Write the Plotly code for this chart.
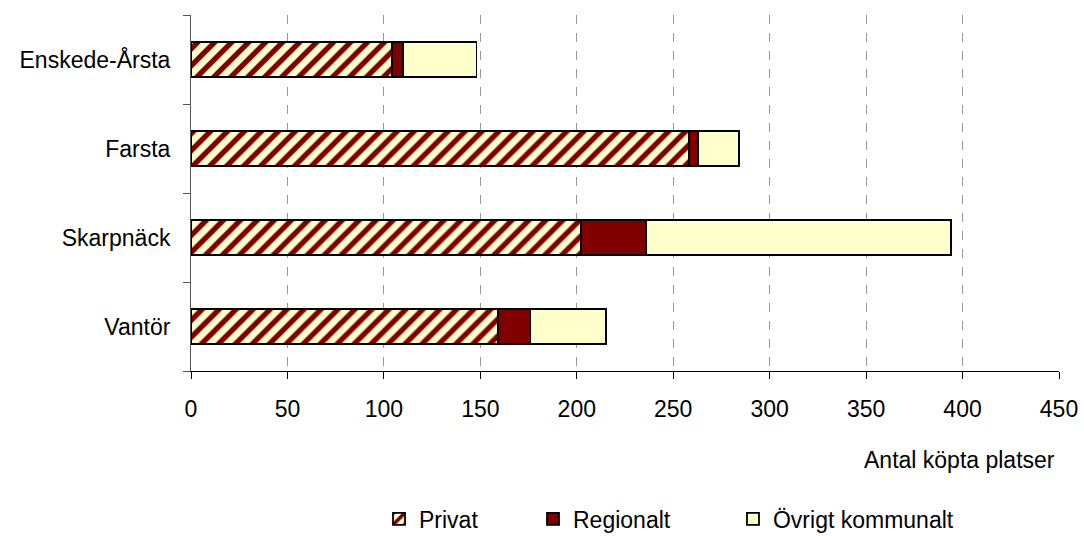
import plotly.graph_objects as go

# districts, listed top to bottom as in the chart
districts = ["Enskede-Årsta", "Farsta", "Skarpnäck", "Vantör"]
privat = [104, 258, 202, 159]
regionalt = [6, 5, 34, 17]
ovrigt = [38, 21, 158, 39]
x_ticks = [0, 50, 100, 150, 200, 250, 300, 350, 400, 450]

# plotly puts first category at the bottom, so flip
cats = districts[::-1]

fig = go.Figure()
fig.add_trace(go.Bar(
    y=cats, x=privat[::-1], name="Privat", orientation="h", legend="legend",
    marker=dict(color="#FFFFCC", line=dict(color="black", width=1.8),
                pattern=dict(shape="/", fgcolor="#800000", bgcolor="#FFFFCC",
                             size=12, solidity=0.45, fillmode="replace")),
))
fig.add_trace(go.Bar(
    y=cats, x=regionalt[::-1], name="Regionalt", orientation="h", legend="legend2",
    marker=dict(color="#800000", line=dict(color="black", width=1.8)),
))
fig.add_trace(go.Bar(
    y=cats, x=ovrigt[::-1], name="Övrigt kommunalt", orientation="h", legend="legend3",
    marker=dict(color="#FFFFCC", line=dict(color="black", width=1.8)),
))

font = "Liberation Sans, Arial, sans-serif"
# legends sit in container coords so they don't push the bottom margin
leg = dict(orientation="h", xanchor="left", yref="container", y=0.032,
           yanchor="middle", font=dict(size=23), itemwidth=30,
           bgcolor="rgba(0,0,0,0)")

fig.update_layout(
    barmode="stack",
    bargap=0.6,
    width=1084, height=536,
    margin=dict(l=191, r=25, t=15, b=165),
    paper_bgcolor="white", plot_bgcolor="white",
    font=dict(family=font, size=23, color="black"),
    showlegend=True,
    legend=dict(leg, x=0.2166),
    legend2=dict(leg, x=0.394),
    legend3=dict(leg, x=0.6244),
    annotations=[dict(text="Antal köpta platser", xref="paper", yref="paper",
                      x=0.998, y=-0.25, xanchor="right", yanchor="middle",
                      showarrow=False, font=dict(size=23))],
)
fig.update_xaxes(
    range=[0, 450], tickvals=x_ticks, showgrid=True, gridcolor="#999999",
    griddash="dash", gridwidth=1, showline=True, linecolor="black", linewidth=1,
    ticks="outside", ticklen=7, tickcolor="black", zeroline=False,
    ticklabelstandoff=10, automargin=False,
)
fig.update_yaxes(
    showline=True, linecolor="#555555", linewidth=1, ticks="outside",
    tickson="boundaries", ticklen=7, tickcolor="#555555", showgrid=False,
    ticklabelstandoff=15, automargin=False,
)

# page body has an 8px margin by default; drop it so the figure fills the window
fig.write_html("out.html", config={"displayModeBar": False},
               post_script="document.body.style.margin='0px';")
